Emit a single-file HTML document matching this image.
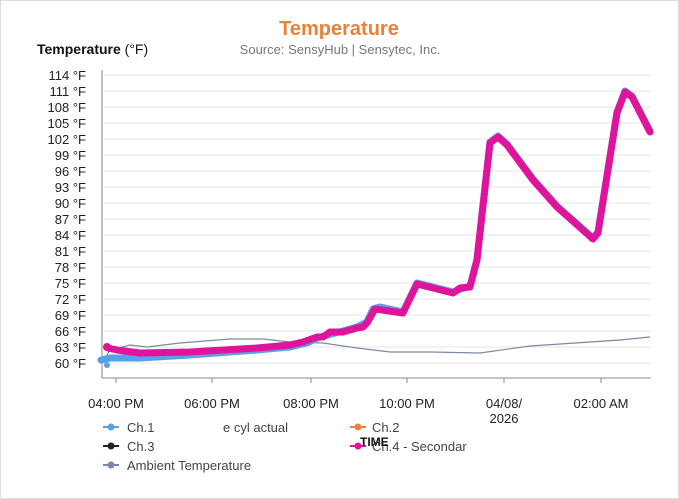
<!DOCTYPE html>
<html><head><meta charset="utf-8"><style>
body{margin:0;background:#fff;}
svg{display:block;font-family:"Liberation Sans",sans-serif;}
</style></head><body>
<svg width="679" height="499" viewBox="0 0 679 499">
<rect x="0.5" y="0.5" width="678" height="498" fill="#fff" stroke="#ddd"/>
<text x="339" y="35" text-anchor="middle" font-size="20" font-weight="bold" fill="#e8823a">Temperature</text>
<text x="340" y="54" text-anchor="middle" font-size="13" fill="#777">Source: SensyHub | Sensytec, Inc.</text>
<text x="37" y="54" font-size="14" font-weight="bold" fill="#111">Temperature <tspan font-weight="normal">(°F)</tspan></text>
<g stroke="#e6e6e6" stroke-width="1">
<line x1="102" x2="651" y1="75" y2="75"/><line x1="102" x2="651" y1="91" y2="91"/><line x1="102" x2="651" y1="107" y2="107"/><line x1="102" x2="651" y1="123" y2="123"/><line x1="102" x2="651" y1="139" y2="139"/><line x1="102" x2="651" y1="155" y2="155"/><line x1="102" x2="651" y1="171" y2="171"/><line x1="102" x2="651" y1="187" y2="187"/><line x1="102" x2="651" y1="203" y2="203"/><line x1="102" x2="651" y1="219" y2="219"/><line x1="102" x2="651" y1="235" y2="235"/><line x1="102" x2="651" y1="251" y2="251"/><line x1="102" x2="651" y1="267" y2="267"/><line x1="102" x2="651" y1="283" y2="283"/><line x1="102" x2="651" y1="299" y2="299"/><line x1="102" x2="651" y1="315" y2="315"/><line x1="102" x2="651" y1="331" y2="331"/><line x1="102" x2="651" y1="347" y2="347"/><line x1="102" x2="651" y1="363" y2="363"/>
</g>
<g stroke="#888" stroke-width="1">
<line x1="102" x2="102" y1="70" y2="378"/><line x1="102" x2="651" y1="378" y2="378"/>
<line x1="116" x2="116" y1="378" y2="383"/><line x1="212" x2="212" y1="378" y2="383"/><line x1="311" x2="311" y1="378" y2="383"/><line x1="407" x2="407" y1="378" y2="383"/><line x1="504" x2="504" y1="378" y2="383"/><line x1="601" x2="601" y1="378" y2="383"/>
</g>
<g font-size="13" fill="#222" text-anchor="end">
<text x="86" y="80">114 °F</text><text x="86" y="96">111 °F</text><text x="86" y="112">108 °F</text><text x="86" y="128">105 °F</text><text x="86" y="144">102 °F</text><text x="86" y="160">99 °F</text><text x="86" y="176">96 °F</text><text x="86" y="192">93 °F</text><text x="86" y="208">90 °F</text><text x="86" y="224">87 °F</text><text x="86" y="240">84 °F</text><text x="86" y="256">81 °F</text><text x="86" y="272">78 °F</text><text x="86" y="288">75 °F</text><text x="86" y="304">72 °F</text><text x="86" y="320">69 °F</text><text x="86" y="336">66 °F</text><text x="86" y="352">63 °F</text><text x="86" y="368">60 °F</text>
</g>
<g font-size="13" fill="#222" text-anchor="middle">
<text x="116" y="408">04:00 PM</text><text x="212" y="408">06:00 PM</text><text x="311" y="408">08:00 PM</text><text x="407" y="408">10:00 PM</text><text x="504" y="408">04/08/</text><text x="504" y="423">2026</text><text x="601" y="408">02:00 AM</text>
</g>
<polyline fill="none" stroke="#7a8aa5" stroke-width="1.2" points="107,355 110,350 130,345 147,347 180,343 230,339 263,339 290,342 323,343 357,348 390,352 430,352 480,353 530,346 590,342 620,340 650,337"/>
<polyline fill="none" stroke="#5aa0e8" stroke-width="7" stroke-linejoin="round" stroke-linecap="round" points="101,360 110,358 140,358 190,355 257,350 290,347 307,343 320,337 343,331 357,327 367,322 373,309 380,307 403,312 417,283 453,292 470,286 477,259 490,142 498,136 507,144 533,179 557,206 593,238 598,232 617,112 625,91 632,96 650,131"/>
<circle cx="107" cy="365" r="3" fill="#5aa0e8"/>
<polyline fill="none" stroke="#e0149a" stroke-width="7" stroke-linejoin="round" stroke-linecap="round" points="108,348 117,350 140,353 190,352 257,348 290,345 303,342 317,337 323,337 330,332 343,332 357,328 363,327 367,323 375,309 403,313 417,284 453,293 460,288 470,287 477,260 490,143 498,137 507,145 533,180 557,207 593,239 598,233 617,113 625,92 632,97 650,132"/>
<circle cx="107" cy="347" r="4" fill="#e0149a"/>
<g font-size="13" fill="#444">
<line x1="103" x2="119" y1="427" y2="427" stroke="#5aa0e8" stroke-width="2"/><circle cx="111" cy="427" r="3.5" fill="#5aa0e8"/><text x="127" y="432">Ch.1</text><text x="223" y="432">e cyl actual</text>
<line x1="350" x2="366" y1="427" y2="427" stroke="#e8823a" stroke-width="2"/><circle cx="358" cy="427" r="3.5" fill="#e8823a"/><text x="372" y="432">Ch.2</text>
<line x1="103" x2="119" y1="446" y2="446" stroke="#222" stroke-width="2"/><circle cx="111" cy="446" r="3.5" fill="#222"/><text x="127" y="451">Ch.3</text>
<line x1="350" x2="366" y1="446" y2="446" stroke="#e0149a" stroke-width="2"/><circle cx="358" cy="446" r="3.5" fill="#e0149a"/><text x="372" y="451">Ch.4 - Secondar</text>
<line x1="103" x2="119" y1="465" y2="465" stroke="#7a8aa5" stroke-width="2"/><circle cx="111" cy="465" r="3.5" fill="#7a8aa5"/><text x="127" y="470">Ambient Temperature</text>
</g>
<text x="360" y="446" font-size="12" font-weight="bold" fill="#111">TIME</text>
</svg>
</body></html>
